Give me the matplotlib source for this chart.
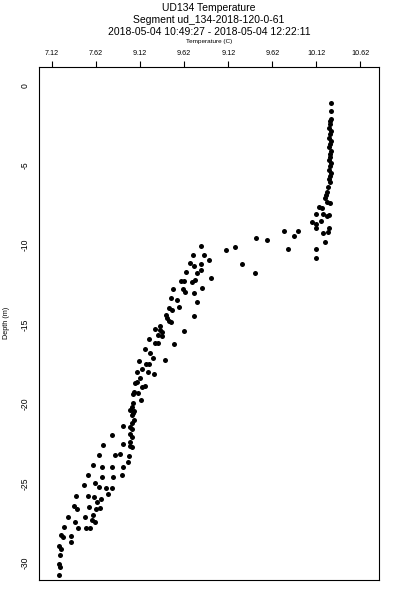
import matplotlib
matplotlib.use("Agg")
import matplotlib.pyplot as plt

plt.rcParams['font.family'] = ['Liberation Sans', 'DejaVu Sans']

title_lines = ["UD134 Temperature",
               "Segment ud_134-2018-120-0-61",
               "2018-05-04 10:49:27 - 2018-05-04 12:22:11"]
x_label = "Temperature (C)"
y_label = "Depth (m)"

x_tick_values = [7.12, 7.62, 8.12, 8.62, 9.12, 9.62, 10.12, 10.62]
x_tick_labels = ["7.12", "7.62", "9.12", "9.62", "9.12", "9.62", "10.12", "10.62"]
y_tick_values = [0, -5, -10, -15, -20, -25, -30]
y_tick_labels = ["0", "-5", "-10", "-15", "-20", "-25", "-30"]

temperature = [
    10.29, 10.28, 10.28, 10.27, 10.27, 10.26, 10.28, 10.27, 10.26, 10.28, 10.27, 10.26,
    10.28, 10.27, 10.27, 10.26, 10.28, 10.27, 10.26, 10.28, 10.27, 10.26, 10.27,
    10.25, 10.24, 10.23, 10.22, 10.24, 10.27, 10.15, 10.18, 10.11, 10.20, 10.24, 10.26,
    10.07, 10.12, 10.17, 10.11, 10.26, 10.20, 10.25, 10.22, 10.11, 10.11,
    9.75, 9.91, 9.87, 9.43, 9.56, 9.80, 9.20, 9.09, 9.27, 9.42,
    8.81, 8.72, 8.84, 8.90, 8.68, 8.73, 8.81, 8.81, 8.64, 8.76, 8.92, 8.62, 8.58, 8.71,
    8.745, 8.82, 8.61,
    8.495, 8.63, 8.73, 8.47, 8.54, 8.77, 8.56, 8.45, 8.48, 8.41, 8.42, 8.45, 8.47, 8.73,
    8.62, 8.35, 8.35, 8.29, 8.37, 8.32, 8.37, 8.22, 8.29, 8.32, 8.50,
    8.18, 8.23, 8.26, 8.40, 8.11, 8.19, 8.22, 8.14, 8.08, 8.21, 8.28, 8.12, 8.08, 8.06,
    8.14, 8.18, 8.05, 8.09, 8.04, 8.13, 8.04, 8.03, 8.01, 8.055, 8.04, 8.03, 8.055, 8.03,
    7.93, 8.01, 8.03, 8.01, 7.805, 8.03, 7.93, 8.006, 8.006, 8.03, 7.70,
    7.65, 7.84, 7.89, 7.99, 7.98, 7.59, 7.80, 7.92, 7.69, 7.53, 7.69, 7.81, 7.91, 7.61,
    7.48, 7.65, 7.73, 7.80, 7.75, 7.39, 7.53, 7.60, 7.68, 7.63, 7.37, 7.40, 7.54, 7.62,
    7.665, 7.305, 7.49, 7.58, 7.57, 7.61, 7.38, 7.26, 7.41, 7.51, 7.55, 7.22, 7.33, 7.24,
    7.33, 7.20, 7.22, 7.21, 7.20, 7.21, 7.20,
]
depth = [
    -1.07, -1.57, -2.08, -2.20, -2.39, -2.64, -2.83, -3.02, -3.27, -3.46, -3.65, -3.84,
    -4.09, -4.28, -4.47, -4.65, -4.84, -5.03, -5.28, -5.47, -5.66, -5.85, -6.04,
    -6.33, -6.65, -6.86, -7.04, -7.28, -7.36, -7.59, -7.69, -8.07, -8.07, -8.18, -8.09,
    -8.57, -8.70, -8.51, -8.95, -8.91, -9.26, -9.20, -9.79, -10.25, -10.84,
    -9.14, -9.14, -9.43, -9.58, -9.69, -10.27, -10.11, -10.30, -11.18, -11.74,
    -10.06, -10.61, -10.63, -10.94, -11.13, -11.30, -11.21, -11.59, -11.68, -11.74, -12.06,
    -12.25, -12.25, -12.31, -12.20, -12.69, -12.79,
    -12.77, -12.94, -13.00, -13.35, -13.46, -13.60, -13.90, -13.94, -14.09, -14.40, -14.57,
    -14.78, -14.86, -14.48, -15.41, -15.08, -15.35, -15.28, -15.45, -15.66, -15.72, -15.91,
    -16.14, -16.18, -16.25,
    -16.56, -16.81, -17.13, -17.23, -17.28, -17.50, -17.50, -17.80, -17.97, -18.01, -18.13,
    -18.38, -18.60, -18.70, -18.91, -18.87, -19.23, -19.33, -19.39, -19.75, -19.92, -20.17,
    -20.38, -20.42, -20.58, -20.69, -21.01, -21.18, -21.36, -21.43, -21.55, -21.91, -21.97,
    -22.06, -22.52, -22.37, -22.64, -22.72, -22.58,
    -23.19, -23.21, -23.13, -23.27, -23.63, -23.84, -23.94, -23.96, -23.98, -24.45, -24.57,
    -24.61, -24.47, -24.95, -25.11, -25.24, -25.26, -25.28, -25.68, -25.79, -25.77, -25.83,
    -25.96, -26.16, -26.40, -26.62, -26.50, -26.62, -26.56, -27.09, -27.13, -27.00, -27.30,
    -27.44, -27.40, -27.72, -27.78, -27.82, -27.80, -28.24, -28.32, -28.38, -28.66, -28.93,
    -29.12, -29.50, -30.06, -30.27, -30.75,
]

W, H = 400, 600
fig = plt.figure(figsize=(4, 6), dpi=100)
ax = fig.add_axes([39 / W, 1 - 580 / H, (379 - 39) / W, (580 - 67) / H])

ax.plot(temperature, depth, linestyle='none', marker='o', markersize=3.6,
        color='black', markeredgewidth=0)

ax.set_xlim(6.972, 10.83)
ax.set_ylim(-31.07, 1.19)

ax.xaxis.tick_top()
ax.set_xticks(x_tick_values)
ax.set_xticklabels(x_tick_labels, fontsize=5.2)
ax.tick_params(axis='x', direction='out', length=4.3, width=0.8, pad=3, top=True, bottom=False)
ax.set_yticks(y_tick_values)
ax.set_yticklabels(y_tick_labels, fontsize=6.2, rotation=90, va='center')
ax.tick_params(axis='y', length=0, pad=6.5)
for s in ax.spines.values():
    s.set_linewidth(0.8)

fig.text(209 / W, 1 - 8 / H, title_lines[0], ha='center', va='center', fontsize=7.5)
fig.text(209 / W, 1 - 20 / H, title_lines[1], ha='center', va='center', fontsize=7.5)
fig.text(209 / W, 1 - 32 / H, title_lines[2], ha='center', va='center', fontsize=7.5)
fig.text(209 / W, 1 - 41 / H, x_label, ha='center', va='center', fontsize=4.6)
fig.text(6 / W, 1 - 323 / H, y_label, ha='center', va='center', fontsize=5.2, rotation=90)

fig.savefig("out.png", dpi=100)
